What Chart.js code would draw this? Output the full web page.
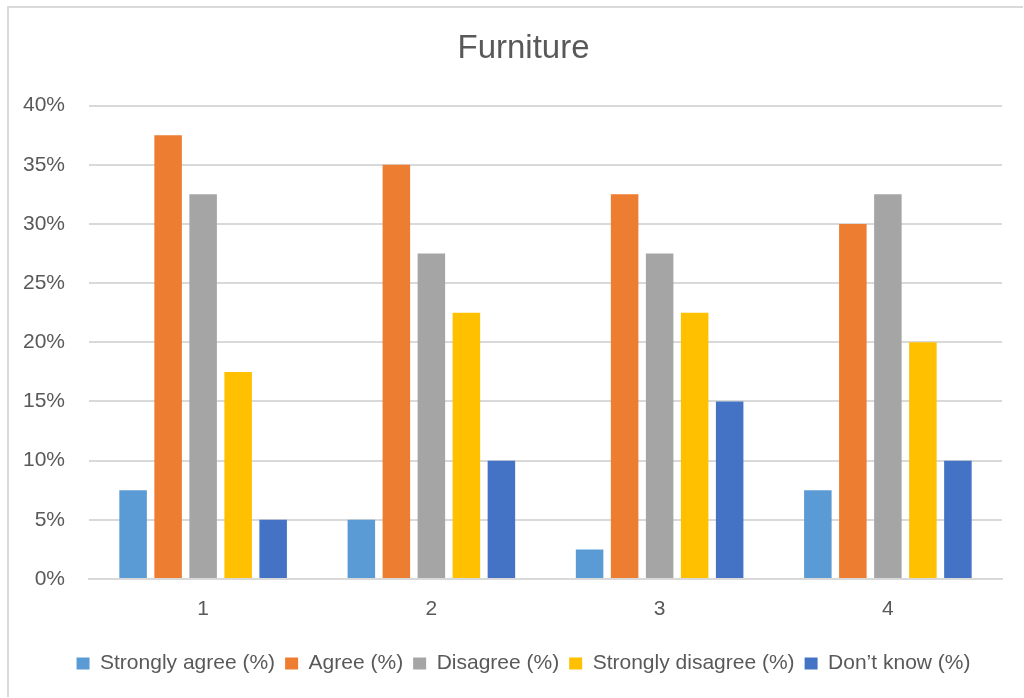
<!DOCTYPE html>
<html><head><meta charset="utf-8">
<script src="https://cdn.jsdelivr.net/npm/chart.js@4"></script>
<style>
html,body{margin:0;padding:0;background:#fff;}
#frame{position:absolute;left:7px;top:6px;width:1016px;height:691px;border:2px solid #d9d9d9;box-sizing:border-box;border-right:none;border-bottom:none;}
#wrap{position:absolute;left:0;top:0;width:1024px;height:698px;}
</style></head>
<body>
<div id="frame"></div>
<div id="wrap"><canvas id="c" width="1024" height="698"></canvas></div>
<script>
const categories = ["1","2","3","4"];
const stronglyAgree = [7.5, 5, 2.5, 7.5];
const agree = [37.5, 35, 32.5, 30];
const disagree = [32.5, 27.5, 27.5, 32.5];
const stronglyDisagree = [17.5, 22.5, 22.5, 20];
const dontKnow = [5, 10, 15, 10];
const seriesNames = ["Strongly agree (%)","Agree (%)","Disagree (%)","Strongly disagree (%)","Don\u2019t know (%)"];
const colors = ["#5B9BD5","#ED7D31","#A5A5A5","#FFC000","#4472C4"];
const seriesData = [stronglyAgree, agree, disagree, stronglyDisagree, dontKnow];

const FONT = "'Liberation Sans', Arial, sans-serif";
new Chart(document.getElementById('c'), {
  type: 'bar',
  data: {
    labels: categories,
    datasets: seriesData.map((d,i)=>({
      label: seriesNames[i], data: d, backgroundColor: colors[i],
      categoryPercentage: 0.767, barPercentage: 0.786, borderWidth: 0
    }))
  },
  options: {
    responsive: false, animation: false,
    layout: { padding: { left: 23, right: 0, top: 0, bottom: 14 } },
    plugins: {
      title: { display: true, text: 'Furniture', color: '#595959',
        font: { family: FONT, size: 33, weight: 'normal' }, padding: { top: 29, bottom: 37 } },
      legend: { position: 'bottom',
        labels: { boxWidth: 13, boxHeight: 12, padding: 10, color: '#595959',
          font: { family: FONT, size: 21 } } },
      tooltip: { enabled: false }
    },
    scales: {
      x: {
        grid: { display: false, drawTicks: false },
        border: { color: '#d9d9d9', width: 2 },
        ticks: { color: '#595959', font: { family: FONT, size: 21 }, padding: 18 },
        afterFit(s){ s.height = 64; }
      },
      y: {
        min: 0, max: 40,
        grid: { color: '#d9d9d9', lineWidth: 2, drawTicks: false },
        border: { display: false },
        ticks: { stepSize: 5, color: '#595959', font: { family: FONT, size: 21 }, padding: 24,
          callback: v => v + '%' },
        afterFit(s){ s.width = 66; }
      },
      yRight: {
        type: 'linear', position: 'right', min: 0, max: 40,
        grid: { display: false, drawTicks: false },
        border: { display: false },
        ticks: { display: false },
        afterFit(s){ s.width = 22; }
      }
    }
  }
});
</script>
</body></html>
